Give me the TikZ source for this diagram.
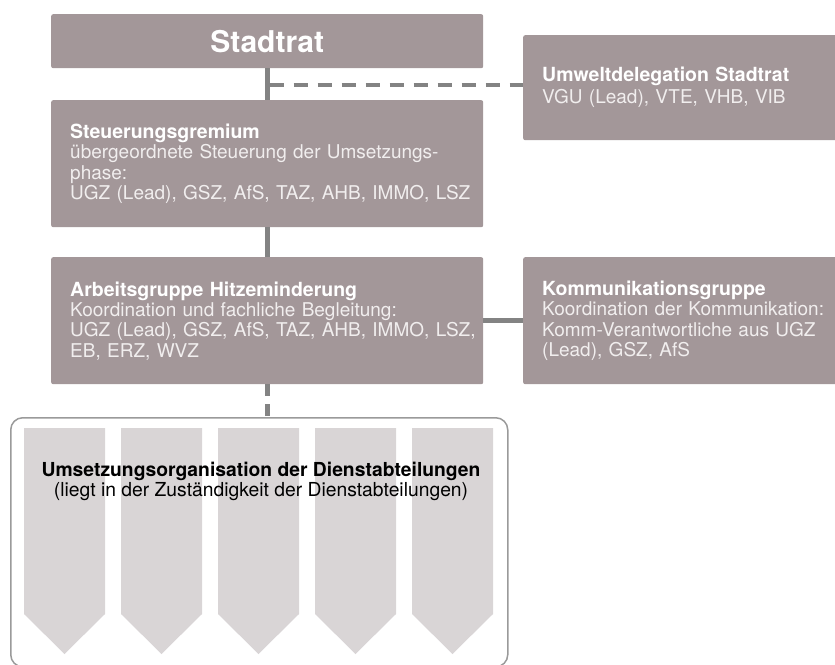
\documentclass[tikz,border=0pt]{standalone}
\usepackage{fontspec}
\setmainfont{TeX Gyre Heros}
\definecolor{boxfill}{HTML}{A39799}
\definecolor{bodytxt}{HTML}{F1EEEE}
\definecolor{linegray}{HTML}{838383}
\definecolor{colfill}{HTML}{D9D5D6}
\definecolor{framegray}{HTML}{9A9A9A}
\tikzset{
  orgbox/.style={fill=boxfill, rounded corners=2pt, inner xsep=19pt, inner ysep=0pt,
    align=left, text=bodytxt, anchor=north west,
    font=\fontsize{19pt}{20.3pt}\selectfont},
  conn/.style={draw=linegray, line width=5pt},
  dconn/.style={draw=linegray, line width=4.5pt}
}
\newcommand{\bt}[1]{\mbox{\fontsize{19.5pt}{20.3pt}\selectfont\bfseries\color{white}#1}}
\newcommand{\oneline}[1]{\mbox{#1}}
\begin{document}
\begin{tikzpicture}[x=1pt,y=-1pt]
\path[use as bounding box, clip] (0,0) rectangle (835,664);

% boxes
\node[orgbox, minimum width=432pt, minimum height=54pt, align=center, text=white,
  font=\fontsize{30pt}{32pt}\selectfont\bfseries] (stadtrat) at (51,14) {Stadtrat};
\node[orgbox, minimum width=432pt, minimum height=127pt, text width=394pt] (steuer) at (51,100)
  {\bt{Steuerungsgremium}\\\oneline{übergeordnete Steuerung der Umsetzungs-}\\\oneline{phase:}\\\oneline{UGZ (Lead), GSZ, AfS, TAZ, AHB, IMMO, LSZ}};
\node[orgbox, minimum width=432pt, minimum height=127pt, text width=394pt] (arbeits) at (51,257)
  {\bt{Arbeitsgruppe Hitzeminderung}\\\oneline{Koordination und fachliche Begleitung:}\\\oneline{UGZ (Lead), GSZ, AfS, TAZ, AHB, IMMO, LSZ,}\\\oneline{EB, ERZ, WVZ}};
\node[orgbox, minimum width=340pt, minimum height=105pt, text width=302pt,
  font=\fontsize{19pt}{22pt}\selectfont] (umwelt) at (523,35)
  {\bt{Umweltdelegation Stadtrat}\\\oneline{VGU (Lead), VTE, VHB, VIB}};
\node[orgbox, minimum width=340pt, minimum height=127pt, text width=302pt] (komm) at (523,257)
  {\bt{Kommunikationsgruppe}\\\oneline{Koordination der Kommunikation:}\\\oneline{Komm-Verantwortliche aus UGZ}\\\oneline{(Lead), GSZ, AfS}};

% container
\node[draw=framegray, line width=1.5pt, rounded corners=12pt, minimum width=497pt,
  minimum height=249pt, anchor=north west, inner sep=0pt] (cont) at (10,417) {};

% columns
\foreach \cx in {24,121,218,315,412}{
  \fill[colfill] (\cx,428) -- (\cx+81,428) -- (\cx+81,614) -- (\cx+40.5,654) -- (\cx,614) -- cycle;
}
\node[anchor=base, align=center, font=\fontsize{19.3pt}{20pt}\selectfont, text=black] (ums) at (261,496)
  {\textbf{Umsetzungsorganisation der Dienstabteilungen}\\(liegt in der Zuständigkeit der Dienstabteilungen)};

% connectors
\coordinate (j1) at (269.5,85);
\draw[conn] (stadtrat.south) -- (steuer.north);
\draw[conn] (steuer.south) -- (arbeits.north);
\draw[dconn, dash pattern=on 14pt off 10pt] (j1) -- (j1 -| umwelt.west);
\draw[conn, line width=4.5pt] (arbeits.east) -- (komm.west);
\draw[conn, dash pattern=on 12pt off 8pt] (arbeits.south) -- (arbeits.south |- cont.north);
\end{tikzpicture}
\end{document}
